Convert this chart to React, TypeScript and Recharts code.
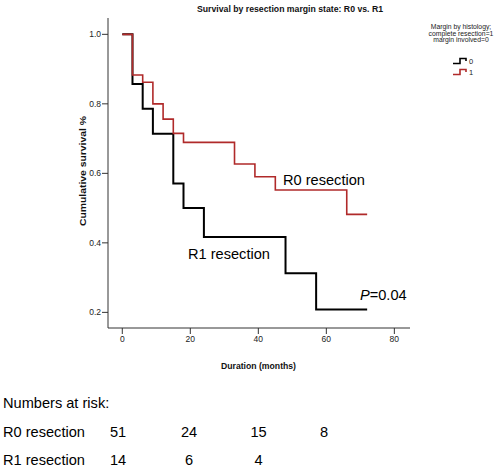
import React from "react";
import { LineChart, Line, XAxis, YAxis } from "recharts";

// ---- Data ----
const r0Months = [0, 3, 6, 9, 12, 15, 18, 33, 39, 45, 66, 72];
const r0Survival = [1.0, 0.883, 0.862, 0.8, 0.756, 0.715, 0.689, 0.627, 0.59, 0.552, 0.482, 0.482];
const r1Months = [0, 3, 6, 9, 15, 18, 24, 48, 57, 72];
const r1Survival = [1.0, 0.857, 0.786, 0.714, 0.571, 0.5, 0.417, 0.3125, 0.208, 0.208];

const xTicks = [0, 20, 40, 60, 80];
const yTicks = [0.2, 0.4, 0.6, 0.8, 1.0];

const riskGroups = ["R0 resection", "R1 resection"];
const riskR0 = [51, 24, 15, 8];
const riskR1 = [14, 6, 4];

const legendTitle = ["Margin by histology;", "complete resection=1", "margin involved=0"];
const legendLabels = ["0", "1"];

const title = "Survival by resection margin state: R0 vs. R1";
const xLabel = "Duration (months)";
const yLabel = "Cumulative survival %";

const BLACK = "#000000";
const RED = "#b02a2a";
const FONT = "'Liberation Sans', Arial, sans-serif";
const NARROW = "'Liberation Sans Narrow', 'Arial Narrow', 'Liberation Sans', Arial, sans-serif";

const r0Data = r0Months.map((t, i) => ({ t, s: r0Survival[i] }));
const r1Data = r1Months.map((t, i) => ({ t, s: r1Survival[i] }));

const riskX = [118, 189, 258.5, 324];

export default function App() {
  return (
    <div style={{ position: "absolute", left: 0, top: 0, width: 502, height: 470, background: "#fff" }}>
      <LineChart
        width={502}
        height={470}
        margin={{ top: 18, right: 92, bottom: 112, left: 0 }}
      >
        <XAxis
          type="number"
          dataKey="t"
          domain={[-4.2, 84.6]}
          ticks={xTicks}
          allowDataOverflow
          height={30}
          tickSize={6}
          tickMargin={2}
          stroke="#333"
          tick={{ fontSize: 8.5, fill: "#222", fontFamily: NARROW }}
        />
        <YAxis
          type="number"
          domain={[0.155, 1.047]}
          ticks={yTicks}
          allowDataOverflow
          width={108}
          tickSize={6}
          tickMargin={1}
          stroke="#333"
          tickFormatter={(v: number) => v.toFixed(1)}
          tick={{ fontSize: 8.5, fill: "#222", fontFamily: NARROW }}
        />
        <Line
          data={r1Data}
          dataKey="s"
          type="stepAfter"
          stroke={BLACK}
          strokeWidth={2}
          dot={false}
          isAnimationActive={false}
        />
        <Line
          data={r0Data}
          dataKey="s"
          type="stepAfter"
          stroke={RED}
          strokeWidth={1.6}
          dot={false}
          isAnimationActive={false}
        />
      </LineChart>
      <svg
        width={502}
        height={470}
        style={{ position: "absolute", left: 0, top: 0, pointerEvents: "none" }}
      >
        <text x={197} y={12} fontFamily={FONT} fontWeight="bold" fontSize={9} textLength={186} lengthAdjust="spacingAndGlyphs" fill="#111">
          {title}
        </text>
        {legendTitle.map((l, i) => (
          <text key={l} x={461} y={29 + i * 6.6} textAnchor="middle" fontFamily={FONT} fontSize={6.8} fill="#222">
            {l}
          </text>
        ))}
        {legendLabels.map((l, i) => {
          const y = 63.5 + i * 11;
          const c = i === 0 ? BLACK : RED;
          return (
            <g key={l}>
              <path d={`M453,${y} H460 V${y - 5} H466 V${y - 2.5}`} fill="none" stroke={c} strokeWidth={1.6} />
              <text x={469} y={y + 0.5} fontFamily={FONT} fontSize={7.5} fill="#222">{l}</text>
            </g>
          );
        })}
        <text
          transform="translate(86,171) rotate(-90)"
          textAnchor="middle"
          fontFamily={FONT}
          fontWeight="bold"
          fontSize={9}
          textLength={110}
          lengthAdjust="spacingAndGlyphs"
          fill="#111"
          x={0}
          y={0}
        >
          {yLabel}
        </text>
        <text x={221} y={369} fontFamily={FONT} fontWeight="bold" fontSize={9.5} textLength={75} lengthAdjust="spacingAndGlyphs" fill="#111">
          {xLabel}
        </text>
        <text x={283} y={185} fontFamily={FONT} fontSize={14.6} fill="#000">R0 resection</text>
        <text x={188} y={259} fontFamily={FONT} fontSize={14.6} fill="#000">R1 resection</text>
        <text x={360} y={300} fontFamily={FONT} fontSize={14.6} fill="#000">
          <tspan fontStyle="italic">P</tspan>=0.04
        </text>
        <text x={3} y={408} fontFamily={FONT} fontSize={14.6} fill="#000">Numbers at risk:</text>
        <text x={3} y={437} fontFamily={FONT} fontSize={14.6} fill="#000">{riskGroups[0]}</text>
        <text x={3} y={465} fontFamily={FONT} fontSize={14.6} fill="#000">{riskGroups[1]}</text>
        {riskR0.map((n, i) => (
          <text key={"a" + i} x={riskX[i]} y={437} textAnchor="middle" fontFamily={FONT} fontSize={14.6} fill="#000">{n}</text>
        ))}
        {riskR1.map((n, i) => (
          <text key={"b" + i} x={riskX[i]} y={465} textAnchor="middle" fontFamily={FONT} fontSize={14.6} fill="#000">{n}</text>
        ))}
      </svg>
    </div>
  );
}
